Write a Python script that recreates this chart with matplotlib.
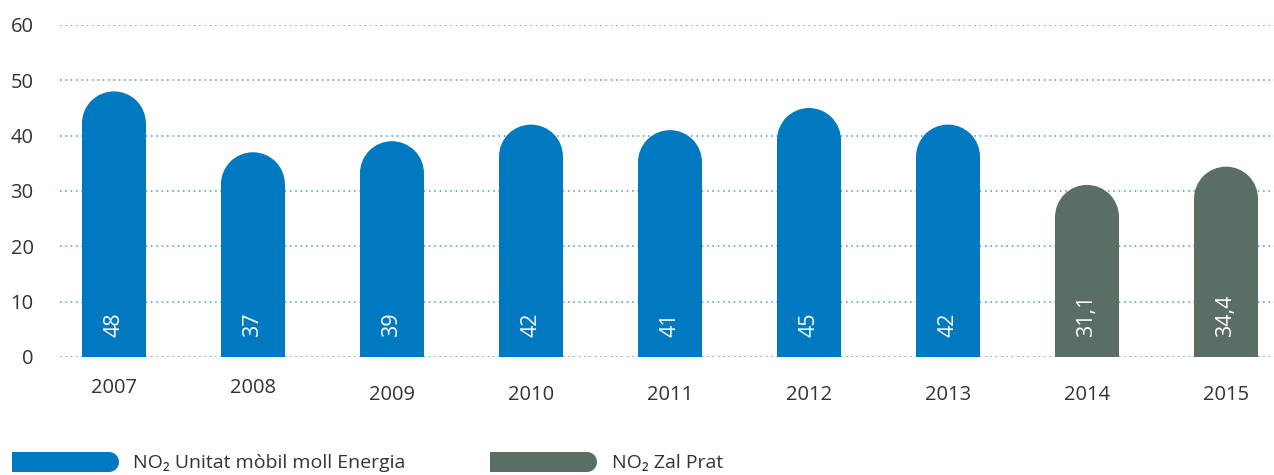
import numpy as np
import matplotlib.pyplot as plt
from matplotlib.patches import Rectangle, Ellipse
from matplotlib.transforms import blended_transform_factory

# ---- data ----
years = ["2007", "2008", "2009", "2010", "2011", "2012", "2013", "2014", "2015"]
values = [48, 37, 39, 42, 41, 45, 42, 31.1, 34.4]
labels = ["48", "37", "39", "42", "41", "45", "42", "31,1", "34,4"]
station = ["moll", "moll", "moll", "moll", "moll", "moll", "moll", "zal", "zal"]
series_names = {"moll": "NO₂ Unitat mòbil moll Energia", "zal": "NO₂ Zal Prat"}

BLUE = "#0079c1"
GREEN = "#5b6e63"
GRID = "#3a9ad9"
TEXT = "#333333"
colors = {"moll": BLUE, "zal": GREEN}

plt.rcParams["font.family"] = ["Open Sans", "DejaVu Sans"]

W, H = 1274, 475
fig = plt.figure(figsize=(W / 100, H / 100), dpi=100)
ax = fig.add_axes([60 / W, 1 - 357 / H, (W - 60) / W, 332 / H])

x = np.arange(len(years))
ax.set_xlim(-0.388, 8.345)
ax.set_ylim(0, 60)
bar_w = 0.46

# px per data unit, used to keep the caps circular
px_x = ax.bbox.width / (ax.get_xlim()[1] - ax.get_xlim()[0])
px_y = ax.bbox.height / (ax.get_ylim()[1] - ax.get_ylim()[0])
r_y = (bar_w * px_x / 2) / px_y

# dotted grid
for yv in range(0, 61, 10):
    ax.axhline(yv, color=GRID, lw=1.1, ls=(0, (1, 2.5)), zorder=0)

for xi, v, lab, st in zip(x, values, labels, station):
    c = colors[st]
    ax.add_patch(Rectangle((xi - bar_w / 2, 0), bar_w, v - r_y, color=c, lw=0, zorder=2))
    ax.add_patch(Ellipse((xi, v - r_y), bar_w, 2 * r_y, color=c, lw=0, zorder=2))
    ax.text(xi, 3.6, lab, rotation=90, ha="center", va="bottom",
            color="white", fontsize=15.5, zorder=3)

# year labels under the bars
trans = blended_transform_factory(ax.transData, ax.transAxes)
year_dy = [-31, -31, -38, -38, -38, -38, -38, -38, -38]
for xi, yr, dy in zip(x, years, year_dy):
    ax.annotate(yr, (xi, 0), xycoords=trans, xytext=(0, dy), textcoords="offset pixels",
                ha="center", va="center", fontsize=14.5, color=TEXT)

ax.set_xticks([])
ax.set_yticks(range(0, 61, 10))
ax.tick_params(axis="y", length=0, pad=19, labelsize=14.5, labelcolor=TEXT)
for s in ax.spines.values():
    s.set_visible(False)


# legend swatches: square left end, rounded right end
def fig_px(px, py):
    return px / W, 1 - py / H


def swatch(x0, x1, yc, h, color):
    r = h / 2
    fx0, fy0 = fig_px(x0, yc + r)
    fig.add_artist(Rectangle((fx0, fy0), (x1 - r - x0) / W, h / H,
                             transform=fig.transFigure, color=color, lw=0))
    fcx, fcy = fig_px(x1 - r, yc)
    fig.add_artist(Ellipse((fcx, fcy), 2 * r / W, h / H,
                           transform=fig.transFigure, color=color, lw=0))


swatch(12, 119, 462, 20, BLUE)
fig.text(*fig_px(133, 463), series_names["moll"], ha="left", va="center",
         fontsize=14, color=TEXT)
swatch(490, 597, 462, 20, GREEN)
fig.text(*fig_px(612, 463), series_names["zal"], ha="left", va="center",
         fontsize=14, color=TEXT)

fig.savefig("out.png", dpi=100)
